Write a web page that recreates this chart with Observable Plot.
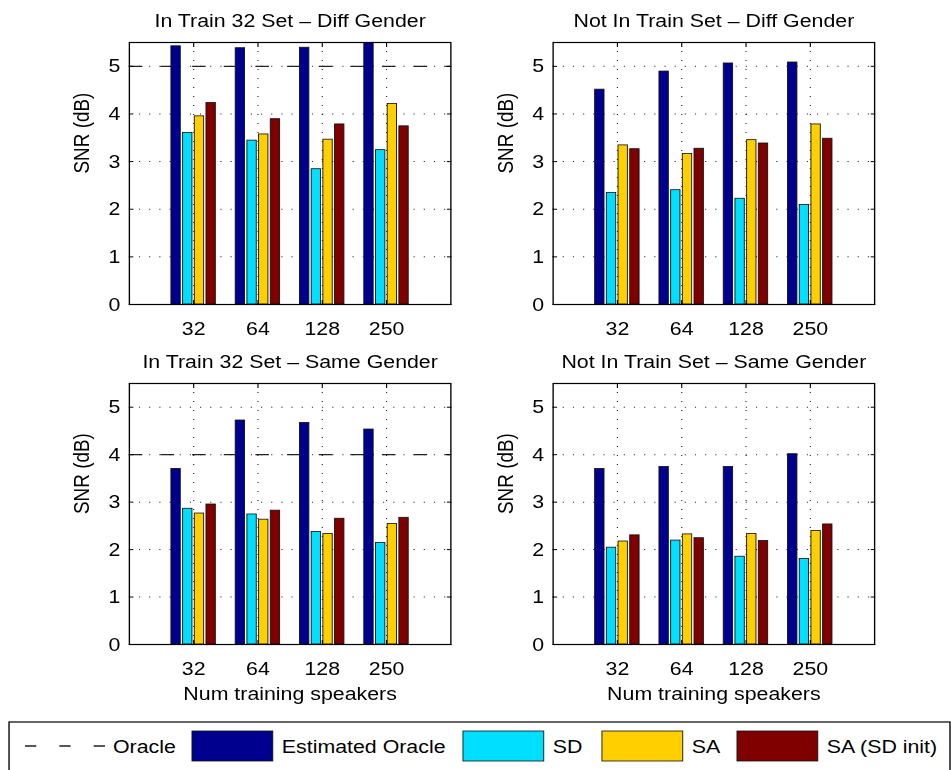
<!DOCTYPE html>
<html>
<head>
<meta charset="utf-8">
<script src="https://cdn.jsdelivr.net/npm/d3@7"></script>
<script src="https://cdn.jsdelivr.net/npm/@observablehq/plot@0.6"></script>
<style>
  html, body { margin: 0; padding: 0; background: #fff; overflow: hidden; }
  /* the figure is laid out narrower and stretched horizontally */
  #page { position: relative; width: 841.6px; height: 770px; transform: scaleX(1.13); transform-origin: 0 0;
          font-family: "Liberation Sans", Arial, Helvetica, sans-serif; }
  .panel { position: absolute; }
  .panel svg { max-width: none; }
</style>
</head>
<body>
<div id="page"></div>
<script>
// Number of training speakers (x categories)
const speakers = ["32", "64", "128", "250"];
// Methods compared in every panel
const methods = ["Estimated Oracle", "SD", "SA", "SA (SD init)"];
const methodColors = ["#00008F", "#00DFFF", "#FFCF00", "#800000"];

// SNR (dB) per method (rows follow `methods`), per speaker count (columns follow `speakers`)
const inTrainDiff = [
  [5.42, 5.38, 5.39, 5.62],
  [3.60, 3.44, 2.84, 3.24],
  [3.95, 3.57, 3.46, 4.21],
  [4.23, 3.89, 3.78, 3.74]
];
const notInTrainDiff = [
  [4.51, 4.89, 5.06, 5.08],
  [2.34, 2.40, 2.22, 2.09],
  [3.34, 3.16, 3.45, 3.78],
  [3.26, 3.27, 3.38, 3.48]
];
const inTrainSame = [
  [3.70, 4.72, 4.67, 4.53],
  [2.86, 2.74, 2.37, 2.14],
  [2.76, 2.63, 2.33, 2.54],
  [2.95, 2.82, 2.65, 2.67]
];
const notInTrainSame = [
  [3.70, 3.74, 3.74, 4.01],
  [2.04, 2.19, 1.85, 1.80],
  [2.17, 2.32, 2.33, 2.39],
  [2.30, 2.24, 2.18, 2.53]
];
// Oracle SNR (dB), only known for the speakers in the training set
const oracleInTrainDiff = 5;
const oracleInTrainSame = 4;

const yTicks = [0, 1, 2, 3, 4, 5];
const xTicks = [1, 2, 3, 4];

const FONT = 18.9;
const innerW = 284.5;
const groupWidth = 0.727;
const step = groupWidth / methods.length;
const barW = 0.8 * step;

function panel({title, values, oracle, xLabel, left, top, marginLeft, height, marginBottom}) {
  const rows = [];
  values.forEach((vals, s) => vals.forEach((v, i) => rows.push({method: methods[s], s, group: i + 1, value: v})));
  const center = d => d.group + (d.s - (methods.length - 1) / 2) * step;
  const dotted = {stroke: "#000", strokeOpacity: 0.85, strokeDasharray: "1,8"};
  const marks = [
    Plot.gridY([1, 2, 3, 4, 5], dotted),
    Plot.gridX(xTicks, dotted),
    oracle != null ? Plot.ruleY([oracle], {stroke: "#222", strokeWidth: 1.3, strokeDasharray: "12,16"}) : null,
    Plot.rectY(rows, {
      x1: d => center(d) - barW / 2, x2: d => center(d) + barW / 2,
      y1: 0, y2: "value", fill: "method", stroke: "#111", strokeWidth: 0.8, clip: true
    }),
    Plot.frame({stroke: "#000", strokeWidth: 1.2}),
    Plot.axisY(yTicks, {anchor: "left", tickSize: -4, tickPadding: 12, label: null}),
    Plot.axisY(yTicks, {anchor: "right", tickSize: -4, tickFormat: () => "", label: null}),
    Plot.axisX(xTicks, {anchor: "bottom", tickSize: -4, tickPadding: 21, tickFormat: i => speakers[i - 1], label: null}),
    Plot.axisX(xTicks, {anchor: "top", tickSize: -4, tickFormat: () => "", label: null}),
    Plot.text([title], {text: d => d, frameAnchor: "top", dy: -15.5, lineAnchor: "bottom", fill: "#000", fontSize: FONT}),
    Plot.text(["SNR (dB)"], {text: d => d, frameAnchor: "left", rotate: -90, dx: -35.4, lineAnchor: "bottom", fill: "#000", fontSize: FONT}),
    xLabel ? Plot.text([xLabel], {text: d => d, frameAnchor: "bottom", dy: 55, lineAnchor: "bottom", fill: "#000", fontSize: FONT}) : null
  ];
  const chart = Plot.plot({
    width: marginLeft + innerW + 10,
    height,
    marginTop: 42,
    marginBottom,
    marginLeft,
    marginRight: 10,
    style: {background: "transparent", fontFamily: '"Liberation Sans", Arial, Helvetica, sans-serif', fontSize: FONT + "px", color: "#000", overflow: "visible"},
    x: {domain: [0, 5]},
    y: {domain: [0, 5.5]},
    color: {domain: methods, range: methodColors},
    marks
  });
  const div = document.createElement("div");
  div.className = "panel";
  div.style.left = left + "px";
  div.style.top = top + "px";
  div.appendChild(chart);
  document.getElementById("page").appendChild(div);
}

const leftBox = 114.2, rightBox = 488.5;
const topRow = {top: 0, height: 341, marginBottom: 37};
const bottomRow = {top: 341, height: 369, marginBottom: 66};

panel({title: "In Train 32 Set \u2013 Diff Gender", values: inTrainDiff, oracle: oracleInTrainDiff,
       left: leftBox - 110, marginLeft: 110, ...topRow});
panel({title: "Not In Train Set \u2013 Diff Gender", values: notInTrainDiff, oracle: null,
       left: rightBox - 70, marginLeft: 70, ...topRow});
panel({title: "In Train 32 Set \u2013 Same Gender", values: inTrainSame, oracle: oracleInTrainSame,
       xLabel: "Num training speakers", left: leftBox - 110, marginLeft: 110, ...bottomRow});
panel({title: "Not In Train Set \u2013 Same Gender", values: notInTrainSame, oracle: null,
       xLabel: "Num training speakers", left: rightBox - 70, marginLeft: 70, ...bottomRow});

// Legend strip along the bottom
const legend = d3.select("#page").append("svg")
  .attr("width", 841.6).attr("height", 80)
  .style("position", "absolute").style("left", "0px").style("top", "700px")
  .style("font-family", '"Liberation Sans", Arial, Helvetica, sans-serif')
  .style("font-size", FONT + "px");
legend.append("rect").attr("x", 8).attr("y", 22).attr("width", 832.7).attr("height", 70)
  .attr("fill", "#fff").attr("stroke", "#000").attr("stroke-width", 1.2);
legend.append("line").attr("x1", 22.1).attr("x2", 92.9).attr("y1", 46).attr("y2", 46)
  .attr("stroke", "#222").attr("stroke-width", 1.3).attr("stroke-dasharray", "10,20.4");
legend.append("text").attr("x", 100).attr("y", 53.5).text("Oracle");
const swatchX = [169.9, 409.7, 532.7, 652.2];
methods.forEach((m, i) => {
  legend.append("rect").attr("x", swatchX[i]).attr("y", 31).attr("width", 71.5).attr("height", 30)
    .attr("fill", methodColors[i]).attr("stroke", "#111").attr("stroke-width", 0.8);
  legend.append("text").attr("x", swatchX[i] + 79.5).attr("y", 53.5).text(m);
});
</script>
</body>
</html>
